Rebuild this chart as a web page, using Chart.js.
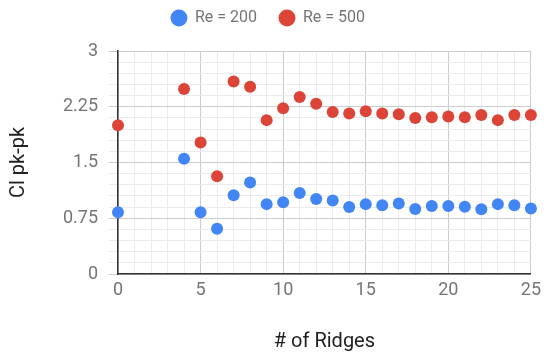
<!DOCTYPE html>
<html>
<head>
<meta charset="utf-8">
<script src="https://cdn.jsdelivr.net/npm/chart.js@4.4.1/dist/chart.umd.min.js"></script>
<style>
  html, body { margin: 0; padding: 0; background: #fff; }
  #wrap { width: 547px; height: 354px; position: relative; }
</style>
</head>
<body>
<div id="wrap"><canvas id="c"></canvas></div>
<script>
const ridges = [0, 4, 5, 6, 7, 8, 9, 10, 11, 12, 13, 14, 15, 16, 17, 18, 19, 20, 21, 22, 23, 24, 25];
const re200 = [0.83, 1.55, 0.83, 0.61, 1.06, 1.23, 0.94, 0.965, 1.09, 1.01, 0.99, 0.90, 0.94, 0.925, 0.95, 0.875, 0.915, 0.915, 0.905, 0.87, 0.94, 0.925, 0.88];
const re500 = [2.0, 2.49, 1.77, 1.315, 2.59, 2.52, 2.07, 2.23, 2.38, 2.29, 2.18, 2.16, 2.19, 2.16, 2.15, 2.10, 2.11, 2.12, 2.11, 2.14, 2.07, 2.14, 2.14];
const seriesNames = ['Re = 200', 'Re = 500'];
const yTickLabels = ['0', '0.75', '1.5', '2.25', '3'];
const xTickLabels = ['0', '5', '10', '15', '20', '25'];

const toPts = (ys) => ridges.map((x, i) => ({ x: x, y: ys[i] }));
const FONT = 'Roboto, "Noto Sans", sans-serif';

const legendHeightPlugin = {
  id: 'legendHeight',
  beforeUpdate(chart) {
    const lg = chart.legend;
    if (lg && !lg._patched) {
      const orig = lg.fit.bind(lg);
      lg.fit = function () { orig(); this.height = 63; };
      lg._patched = true;
    }
  }
};

new Chart(document.getElementById('c'), {
  type: 'scatter',
  data: {
    datasets: [
      { label: seriesNames[0], data: toPts(re200), backgroundColor: '#4285F4', borderColor: '#4285F4', pointRadius: 6, pointHoverRadius: 6, pointStyle: 'circle', borderWidth: 0, clip: false },
      { label: seriesNames[1], data: toPts(re500), backgroundColor: '#DB4437', borderColor: '#DB4437', pointRadius: 6, pointHoverRadius: 6, pointStyle: 'circle', borderWidth: 0, clip: false }
    ]
  },
  plugins: [legendHeightPlugin],
  options: {
    responsive: true,
    maintainAspectRatio: false,
    animation: false,
    layout: { padding: { left: 0, right: 11, top: -12, bottom: 0 } },
    plugins: {
      tooltip: { enabled: false },
      legend: {
        position: 'top',
        align: 'center',
        labels: {
          usePointStyle: true,
          boxWidth: 16,
          boxHeight: 12,
          padding: 22,
          color: '#757575',
          font: { family: FONT, size: 16 }
        }
      }
    },
    scales: {
      x: {
        type: 'linear',
        min: 0, max: 25,
        afterFit: (s) => { s.height = 80; },
        ticks: {
          stepSize: 1,
          autoSkip: false,
          maxRotation: 0,
          color: '#757575',
          font: { family: FONT, size: 18 },
          padding: 6,
          callback: (v) => (v % 5 === 0 ? xTickLabels[v / 5] : '')
        },
        grid: {
          color: (ctx) => (ctx.tick && ctx.tick.value % 5 === 0 ? '#cccccc' : '#ebebeb'),
          drawTicks: false,
          lineWidth: 1
        },
        border: { display: true, color: '#333333', width: 1.5 },
        title: {
          display: true,
          text: '# of Ridges',
          color: '#222222',
          font: { family: FONT, size: 20 },
          padding: { top: 0, bottom: 0 }
        }
      },
      y: {
        type: 'linear',
        min: 0, max: 3,
        afterFit: (s) => { s.width = 118; },
        afterBuildTicks: (s) => {
          const t = [];
          for (let i = 0; i <= 20; i++) t.push({ value: +(i * 0.15).toFixed(2) });
          s.ticks = t;
        },
        ticks: {
          autoSkip: false,
          color: '#757575',
          font: { family: FONT, size: 18 },
          padding: 11,
          callback: (v, i) => (i % 5 === 0 ? yTickLabels[i / 5] : '')
        },
        grid: {
          color: (ctx) => (ctx.index % 5 === 0 ? '#cccccc' : '#ebebeb'),
          drawTicks: true,
          tickLength: 9,
          lineWidth: 1
        },
        border: { display: true, color: '#333333', width: 1.5 },
        title: {
          display: true,
          text: 'Cl pk-pk',
          color: '#222222',
          font: { family: FONT, size: 20 },
          padding: { top: 7, bottom: 0 }
        }
      }
    }
  }
});
</script>
</body>
</html>
